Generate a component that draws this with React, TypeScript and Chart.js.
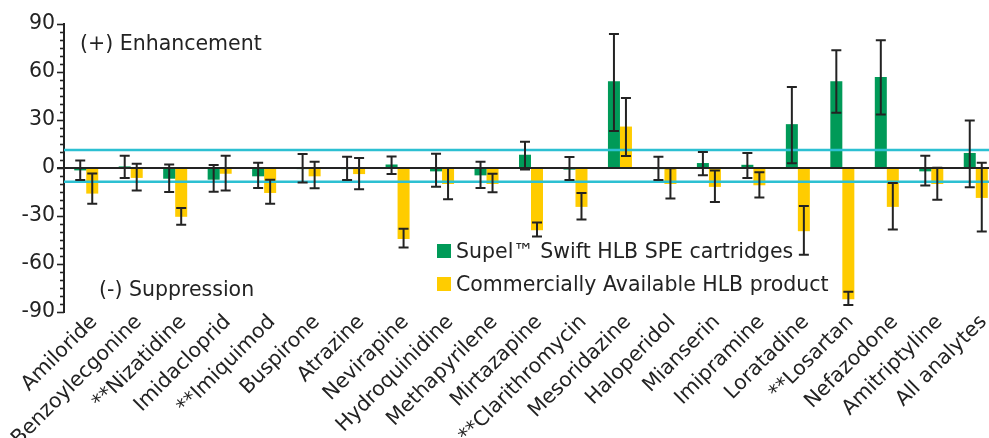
import React, { useEffect, useRef } from 'react';
import { Chart, registerables } from 'chart.js';

Chart.register(...registerables);

const categories = [
  'Amiloride', 'Benzoylecgonine', '**Nizatidine', 'Imidacloprid', '**Imiquimod',
  'Buspirone', 'Atrazine', 'Nevirapine', 'Hydroquinidine', 'Methapyrilene',
  'Mirtazapine', '**Clarithromycin', 'Mesoridazine', 'Haloperidol', 'Mianserin',
  'Imipramine', 'Loratadine', '**Losartan', 'Nefazodone', 'Amitriptyline', 'All analytes',
];

const supelValues = [-1.5, 1, -6.7, -7.3, -5.2, -0.7, -0.7, 2.2, -2.1, -4.6, 8.3, -1, 54.2, -0.7, 3.1, 2, 27.4, 54.2, 56.9, -2.1, 9.4];
const supelErrLow = [-7.5, -6.2, -15, -14.8, -12.5, -9, -7.5, -3.8, -11.7, -12.5, -1, -7.5, 23.1, -7.5, -4.6, -6.2, 2.9, 34.5, 33.4, -11, -12.1];
const supelErrHigh = [4.7, 7.6, 2.2, 1.9, 3.3, 8.7, 7, 7.2, 8.9, 3.9, 16.4, 6.9, 83.7, 7, 10, 9.3, 50.7, 73.6, 79.8, 7.7, 29.7];

const commercialValues = [-16, -6.2, -30.5, -3.6, -15.6, -5.2, -3.8, -44.3, -10, -10, -38.9, -24.3, 25.9, -10, -11.8, -10.8, -39.5, -82.1, -24.3, -10, -18.7];
const commercialErrLow = [-22.3, -14, -35.5, -14, -22.3, -12.7, -13.3, -49.7, -19.6, -15.2, -42.8, -32.2, 7.5, -19.1, -21.2, -18.5, -54.2, -85.7, -38.5, -19.8, -39.7];
const commercialErrHigh = [-3.5, 2.7, -25, 7.7, -7.3, 3.9, 6.2, -38, 0, -3.6, -34.1, -15.6, 43.8, -0.2, -1.5, -2.7, -23.7, -77.3, -9.4, 0.2, 3.3];

const seriesNames = ['Supel\u2122 Swift HLB SPE cartridges', 'Commercially Available HLB product'];
const yTickValues = [-90, -60, -30, 0, 30, 60, 90];
const thresholdHigh = 11.2;
const thresholdLow = -8.6;
const enhancementLabel = '(+) Enhancement';
const suppressionLabel = '(-) Suppression';

const GREEN = '#009a58';
const YELLOW = '#ffcc00';
const CYAN = '#2cc0d2';
const DARK = '#232323';
const FONT = '"DejaVu Sans", Verdana, sans-serif';
const FONT_SIZE = 20.5;

export default function App() {
  const canvasRef = useRef<HTMLCanvasElement | null>(null);

  useEffect(() => {
    const canvas = canvasRef.current;
    if (!canvas) return;

    const errLows = [supelErrLow, commercialErrLow];
    const errHighs = [supelErrHigh, commercialErrHigh];

    const overlayPlugin = {
      id: 'overlay',
      afterDatasetsDraw(chart: any) {
        const ctx = chart.ctx;
        const y = chart.scales.y;
        const area = chart.chartArea;
        ctx.save();
        // y axis tick marks (major and minor)
        ctx.strokeStyle = DARK;
        ctx.lineWidth = 1.6;
        for (let v = -90; v <= 90; v += 5) {
          const py = Math.round(y.getPixelForValue(v)) + 0.5;
          const len = v % 30 === 0 ? 7 : 4;
          ctx.beginPath();
          ctx.moveTo(area.left - len, py);
          ctx.lineTo(area.left, py);
          ctx.stroke();
        }
        // threshold lines
        ctx.strokeStyle = CYAN;
        ctx.lineWidth = 2.5;
        [thresholdHigh, thresholdLow].forEach((t) => {
          const py = y.getPixelForValue(t);
          ctx.beginPath();
          ctx.moveTo(area.left, py);
          ctx.lineTo(area.right, py);
          ctx.stroke();
        });
        // zero line
        ctx.strokeStyle = DARK;
        ctx.lineWidth = 2;
        const pz = y.getPixelForValue(0);
        ctx.beginPath();
        ctx.moveTo(area.left - 7, pz);
        ctx.lineTo(area.right, pz);
        ctx.stroke();
        // error bars
        ctx.lineWidth = 2;
        ctx.strokeStyle = DARK;
        chart.data.datasets.forEach((_ds: any, di: number) => {
          const meta = chart.getDatasetMeta(di);
          meta.data.forEach((el: any, i: number) => {
            const x = el.x;
            const y1 = y.getPixelForValue(errLows[di][i]);
            const y2 = y.getPixelForValue(errHighs[di][i]);
            const cap = 5;
            ctx.beginPath();
            ctx.moveTo(x, y1);
            ctx.lineTo(x, y2);
            ctx.moveTo(x - cap, y1);
            ctx.lineTo(x + cap, y1);
            ctx.moveTo(x - cap, y2);
            ctx.lineTo(x + cap, y2);
            ctx.stroke();
          });
        });
        // annotations
        ctx.fillStyle = DARK;
        ctx.font = `${FONT_SIZE}px ${FONT}`;
        ctx.textBaseline = 'alphabetic';
        ctx.textAlign = 'left';
        ctx.fillText(enhancementLabel, 80, 50);
        ctx.fillText(suppressionLabel, 99, 296);
        // legend
        const legendColors = [GREEN, YELLOW];
        const legendY = [251, 284];
        seriesNames.forEach((name, i) => {
          ctx.fillStyle = legendColors[i];
          ctx.fillRect(437, legendY[i] - 7, 14, 14);
          ctx.fillStyle = DARK;
          ctx.fillText(name, 456, legendY[i] + 7);
        });
        ctx.restore();
      },
    };

    const chart = new Chart(canvas, {
      type: 'bar',
      data: {
        labels: categories,
        datasets: [
          { label: seriesNames[0], data: supelValues, backgroundColor: GREEN, borderWidth: 0 },
          { label: seriesNames[1], data: commercialValues, backgroundColor: YELLOW, borderWidth: 0 },
        ],
      },
      options: {
        animation: false,
        responsive: true,
        maintainAspectRatio: false,
        devicePixelRatio: 1,
        layout: { padding: { top: 24, right: 2, left: 0, bottom: 0 } },
        datasets: { bar: { categoryPercentage: 0.54, barPercentage: 1 } },
        plugins: {
          legend: { display: false },
          tooltip: { enabled: false },
        },
        scales: {
          x: {
            grid: { display: false, drawTicks: false },
            border: { display: false },
            ticks: {
              autoSkip: false,
              minRotation: 45,
              maxRotation: 45,
              padding: -2,
              labelOffset: 8,
              color: DARK,
              font: { family: FONT, size: FONT_SIZE },
            },
            afterFit(scale: any) {
              scale.height = 126;
            },
          },
          y: {
            min: -90,
            max: 90,
            grid: { display: false, drawTicks: false },
            border: { display: true, color: DARK, width: 2 },
            afterBuildTicks(scale: any) {
              scale.ticks = yTickValues.map((v) => ({ value: v }));
            },
            ticks: {
              padding: 9,
              color: DARK,
              font: { family: FONT, size: FONT_SIZE },
            },
            afterFit(scale: any) {
              scale.width = 64;
            },
          },
        },
      },
      plugins: [overlayPlugin],
    });

    return () => chart.destroy();
  }, []);

  return (
    <div style={{ position: 'fixed', left: 0, top: 0, width: 989, height: 438, overflow: 'hidden', background: '#fff' }}>
      <div style={{ position: 'relative', width: 1000, height: 438 }}>
        <canvas ref={canvasRef} />
      </div>
    </div>
  );
}
